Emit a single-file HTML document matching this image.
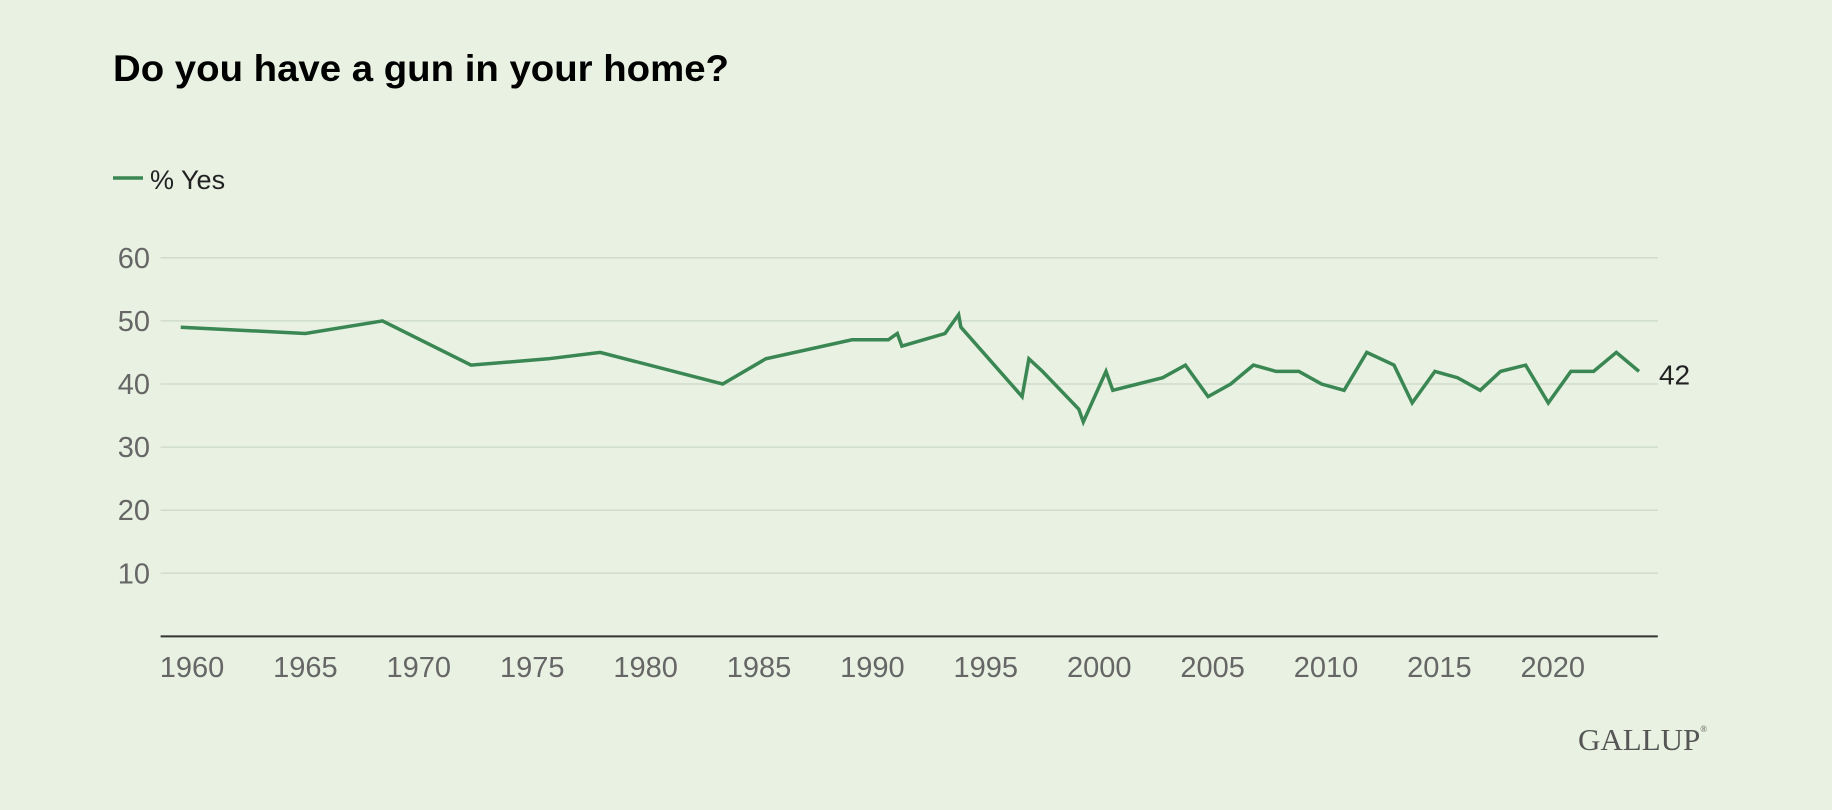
<!DOCTYPE html>
<html><head><meta charset="utf-8"><style>
html,body{margin:0;padding:0;background:#e8f1e2;}
svg{display:block;}
</style></head><body>
<svg id="chart" width="1832" height="810" xmlns="http://www.w3.org/2000/svg">
<rect width="1832" height="810" fill="#e8f1e2"/>
<text x="113" y="81" font-family="Liberation Sans, sans-serif" font-weight="bold" font-size="37" fill="#000" textLength="616" lengthAdjust="spacingAndGlyphs">Do you have a gun in your home?</text>
<g>
<line x1="113" y1="178" x2="143" y2="178" stroke="#3a8753" stroke-width="3.5"/>
<text x="150" y="189" font-family="Liberation Sans, sans-serif" font-size="27" fill="#222">% Yes</text>
</g>
<g id="grid"></g><g id="yt"></g><g id="xt"></g><g id="series"></g>
<text x="1578" y="750" font-family="Liberation Serif, serif" font-size="31" fill="#555">GALLUP<tspan font-size="9" dy="-18">®</tspan></text>
</svg>
<script>
const years=[1959.5,1965.0,1968.4,1972.3,1975.7,1978.0,1983.4,1985.3,1989.1,1990.7,1991.1,1991.3,1993.2,1993.8,1993.9,1996.6,1996.9,1997.5,1999.1,1999.3,2000.3,2000.6,2001.7,2002.8,2003.8,2004.8,2005.8,2006.8,2007.8,2008.8,2009.8,2010.8,2011.8,2013.0,2013.8,2014.8,2015.8,2016.8,2017.7,2018.8,2019.8,2020.8,2021.8,2022.8,2023.8];
const yesValues=[49,48,50,43,44,45,40,44,47,47,48,46,48,51,49,38,44,42,36,34,42,39,40,41,43,38,40,43,42,42,40,39,45,43,37,42,41,39,42,43,37,42,42,45,42];
const yTicks=[10,20,30,40,50,60];
const xTicks=[1960,1965,1970,1975,1980,1985,1990,1995,2000,2005,2010,2015,2020];
const NS="http://www.w3.org/2000/svg";
const L=160.6,R=1657.8;
function x(yr){return 192+22.68*(yr-1960);}
function y(v){return 636.4-6.31*v;}
function mk(t,a,p){const e=document.createElementNS(NS,t);for(const k in a)e.setAttribute(k,a[k]);p.appendChild(e);return e;}
const grid=document.getElementById('grid'),yt=document.getElementById('yt'),xt=document.getElementById('xt'),ser=document.getElementById('series');
yTicks.forEach(v=>{
 const g=mk('line',{x1:L,x2:R,y1:y(v),y2:y(v),stroke:'#d0dccb','stroke-width':1.5},grid);
 
 
 const t=mk('text',{x:150,y:y(v)+10,'text-anchor':'end','font-family':'Liberation Sans, sans-serif','font-size':29,fill:'#666'},yt);
 t.textContent=v;
 
 
});
const ax=mk('line',{x1:L,x2:R,y1:y(0),y2:y(0),stroke:'#333','stroke-width':2},grid);


xTicks.forEach(v=>{
 const t=mk('text',{x:x(v),y:677,'text-anchor':'middle','font-family':'Liberation Sans, sans-serif','font-size':29,fill:'#666'},xt);
 t.textContent=v;
 
 
});
const pts=years.map((yr,i)=>x(yr).toFixed(1)+','+y(yesValues[i]).toFixed(1)).join(' ');
const pl=mk('polyline',{points:pts,fill:'none',stroke:'#3a8753','stroke-width':3.5,'stroke-linejoin':'miter'},ser);


const last=yesValues.length-1;
const lab=mk('text',{x:x(years[last])+20,y:y(yesValues[last])+13,'font-family':'Liberation Sans, sans-serif','font-size':28,fill:'#222'},ser);
lab.textContent=yesValues[last];


</script>
</body></html>
